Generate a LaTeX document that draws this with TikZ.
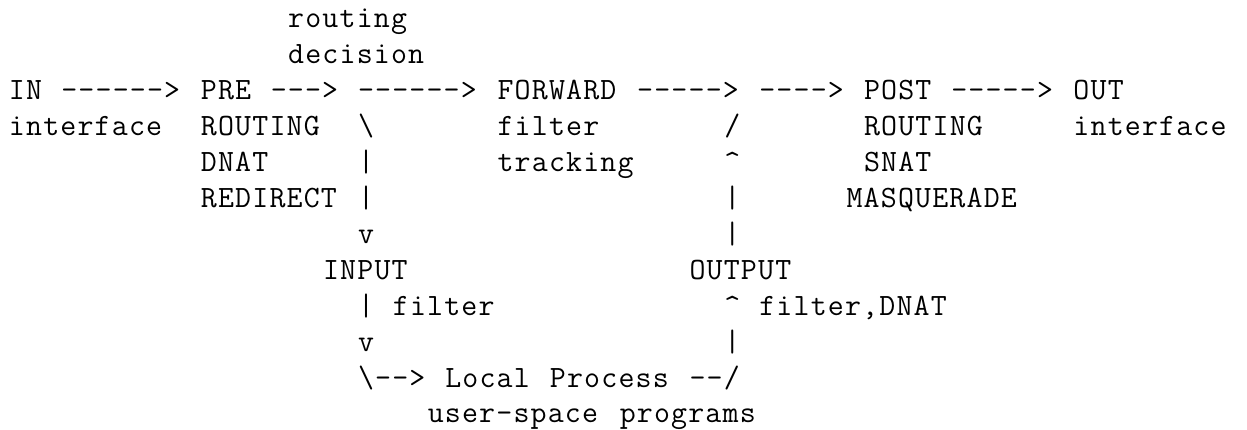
\documentclass[tikz,border=0pt]{standalone}
\usepackage{fontspec}
\setmonofont{Latin Modern Mono}[LetterSpace=3.8]
\tikzset{asc/.style={inner sep=0pt, outer sep=0pt, anchor=base west,
  font=\ttfamily\fontsize{31pt}{35.9pt}\selectfont, text=black}}
\newcommand{\tk}[4]{\node[asc] (#1) at ({9pt+#2*17.45pt},{-28pt-(#3-1)*35.9pt}) {#4};}
\begin{document}
\begin{tikzpicture}
\fill[white] (0,0) rectangle (1247pt,-430pt);
\useasboundingbox (0,0) rectangle (1247pt,-430pt);
% line 1-2
\tk{rt}{16}{1}{routing}
\tk{dc}{16}{2}{decision}
% line 3
\tk{in}{0}{3}{IN}
\tk{a1}{3}{3}{------>}
\tk{pre}{11}{3}{PRE}
\tk{a2}{15}{3}{--->}
\tk{a3}{20}{3}{------>}
\tk{fwd}{28}{3}{FORWARD}
\tk{a4}{36}{3}{----->}
\tk{a5}{43}{3}{---->}
\tk{post}{49}{3}{POST}
\tk{a6}{54}{3}{----->}
\tk{out}{61}{3}{OUT}
% line 4
\tk{inif}{0}{4}{interface}
\tk{prert}{11}{4}{ROUTING}
\tk{bs1}{20}{4}{\textbackslash}
\tk{fwdf}{28}{4}{filter}
\tk{sl1}{41}{4}{/}
\tk{postrt}{49}{4}{ROUTING}
\tk{outif}{61}{4}{interface}
% line 5
\tk{dnat}{11}{5}{DNAT}
\tk{v1}{20}{5}{|}
\tk{trk}{28}{5}{tracking}
\tk{up1}{41}{5}{\textasciicircum}
\tk{snat}{49}{5}{SNAT}
% line 6
\tk{redir}{11}{6}{REDIRECT}
\tk{v2}{20}{6}{|}
\tk{v3}{41}{6}{|}
\tk{masq}{48}{6}{MASQUERADE}
% line 7
\tk{dn1}{20}{7}{v}
\tk{v4}{41}{7}{|}
% line 8
\tk{inp}{18}{8}{INPUT}
\tk{outp}{39}{8}{OUTPUT}
% line 9
\tk{v5}{20}{9}{|}
\tk{inpf}{22}{9}{filter}
\tk{up2}{41}{9}{\textasciicircum}
\tk{outpf}{43}{9}{filter,DNAT}
% line 10
\tk{dn2}{20}{10}{v}
\tk{v6}{41}{10}{|}
% line 11
\tk{a7}{20}{11}{\textbackslash-->}
\tk{lcl}{25}{11}{Local}
\tk{prc}{31}{11}{Process}
\tk{a8}{39}{11}{--/}
% line 12
\tk{usp}{24}{12}{user-space}
\tk{prg}{35}{12}{programs}
\end{tikzpicture}
\end{document}
